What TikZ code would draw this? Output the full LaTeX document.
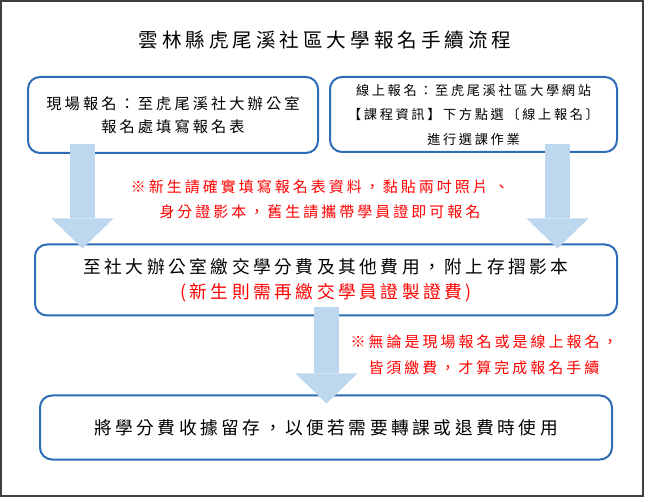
\documentclass[tikz,border=0pt]{standalone}
\usepackage{xcolor}
\usepackage{fontspec}
\setmainfont{Noto Sans CJK TC}[LetterSpace=20]
\usepackage{tikz}
\usetikzlibrary{positioning, arrows.meta, calc}

\definecolor{boxblue}{HTML}{2E6DB5}
\definecolor{arrowblue}{HTML}{BDD7EE}
\definecolor{framegray}{HTML}{404040}

\begin{document}
\begin{tikzpicture}[
    % Define styles for the boxes, notes and arrows
    x=1pt, y=-1pt,
    box/.style={draw=boxblue, line width=2pt, rounded corners=12pt, align=center, inner sep=0pt},
    notetext/.style={align=center, text=red},
    flowarrow/.style={draw=arrowblue, line width=25pt, -{Triangle[width=62pt, length=30pt, line width=0pt]}}
]
    \useasboundingbox (0,0) rectangle (648,502);
    \draw[framegray, line width=1.5pt] (1,1) rectangle (643,496);

    % Define the nodes
    \node[font=\fontsize{19.6}{22}\selectfont] (title) at (325,40) {雲林縣虎尾溪社區大學報名手續流程};

    \node[box, minimum width=290pt, minimum height=76pt, font=\fontsize{15.25}{22.5}\selectfont] (onsite) at (173,115) {現場報名：至虎尾溪社大辦公室\\報名處填寫報名表};

    \node[box, minimum width=287pt, minimum height=75pt, font=\fontsize{13.2}{24.5}\selectfont] (online) at (473.5,114.5) {線上報名：至虎尾溪社區大學網站\\【課程資訊】下方點選〔線上報名〕\\進行選課作業};

    \node[notetext, font=\fontsize{15}{25}\selectfont] (newnote) at (320,199.5) {※新生請確實填寫報名表資料，黏貼兩吋照片 、\\身分證影本，舊生請攜帶學員證即可報名};

    \node[box, minimum width=582pt, minimum height=71pt, font=\fontsize{17.7}{25}\selectfont] (payment) at (326,280) {至社大辦公室繳交學分費及其他費用，附上存摺影本\\{\color{red}(新生則需再繳交學員證製證費)}};

    \node[notetext, font=\fontsize{15}{26}\selectfont] (feenote) at (484,355) {※無論是現場報名或是線上報名，\\皆須繳費，才算完成報名手續};

    \node[box, below=78pt of payment, minimum width=572pt, minimum height=64pt, font=\fontsize{17.7}{25}\selectfont] (receipt) {將學分費收據留存，以便若需要轉課或退費時使用};

    % Draw the arrows
    \coordinate (onsiteout) at (82.5,144);
    \coordinate (onlineout) at (557.5,144);
    \coordinate (paymentout) at (326.5,307);

    \draw[flowarrow] (onsiteout) -- ($(onsiteout |- payment.north)+(0,5)$);

    \draw[flowarrow] (onlineout) -- ($(onlineout |- payment.north)+(0,5)$);

    \draw[flowarrow] (paymentout) -- ($(paymentout |- receipt.north)+(0,9)$);
\end{tikzpicture}
\end{document}
